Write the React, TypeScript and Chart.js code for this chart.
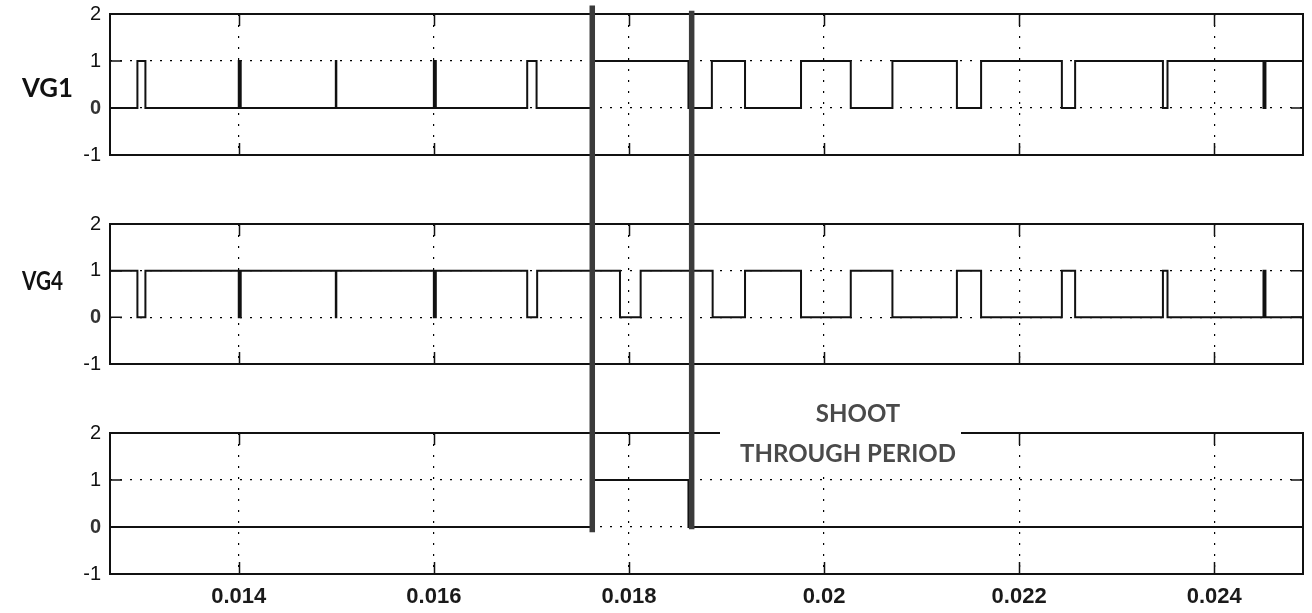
import React, { useEffect, useRef } from 'react';
import { Chart, registerables } from 'chart.js';

Chart.register(...registerables);

// Time axis (seconds)
const T_MIN = 0.01268;
const T_MAX = 0.02491;
const TIME_TICKS = [0.014, 0.016, 0.018, 0.02, 0.022, 0.024];
const TIME_TICK_LABELS = ['0.014', '0.016', '0.018', '0.02', '0.022', '0.024'];
const LEVEL_TICKS = [-1, 0, 1, 2];

// Gate signal VG1: switching instants and the level held from each instant on
const VG1_TIMES = [
  T_MIN, 0.012961, 0.013043, 0.014, 0.01402, 0.014995, 0.015, 0.016, 0.01602,
  0.016957, 0.017053, 0.01762, 0.01861, 0.01885, 0.01919, 0.019764, 0.020274,
  0.020701, 0.021362, 0.02161, 0.022438, 0.022574, 0.023474, 0.023521, 0.024505,
  0.024525, T_MAX,
];
const VG1_LEVELS = [
  0, 1, 0, 1, 0, 1, 0, 1, 0,
  1, 0, 1, 0, 1, 0, 1, 0,
  1, 0, 1, 0, 1, 0, 1, 0,
  1, 1,
];

// Gate signal VG4
const VG4_TIMES = [
  T_MIN, 0.012961, 0.013043, 0.014, 0.01402, 0.014995, 0.015, 0.016, 0.01602,
  0.016957, 0.017059, 0.017908, 0.01812, 0.018858, 0.01919, 0.019764, 0.020274,
  0.020701, 0.021362, 0.02161, 0.022438, 0.022574, 0.023474, 0.023521, 0.024505,
  0.024525, T_MAX,
];
const VG4_LEVELS = [
  1, 0, 1, 0, 1, 0, 1, 0, 1,
  0, 1, 0, 1, 0, 1, 0, 1,
  0, 1, 0, 1, 0, 1, 0, 1,
  0, 0,
];

// Shoot-through state
const ST_TIMES = [T_MIN, 0.01762, 0.01861, T_MAX];
const ST_LEVELS = [0, 1, 0, 0];

// Boundaries of the shoot-through interval
const SHOOT_THROUGH_MARKERS = [0.017624, 0.018643];

const CAPTION_LINES = ['SHOOT', 'THROUGH PERIOD'];

type PanelSpec = {
  id: string;
  label: string | null;
  labelSize: number;
  labelLeft: number;
  labelBaseline: number;
  labelWidth: number;
  times: number[];
  levels: number[];
  top: number;
  height: number;
  padTop: number;
  axisHeight: number;
  showTimeLabels: boolean;
  markerTop: number[] | null;
  markerBottom: number[] | null;
  caption: boolean;
};

const PANELS: PanelSpec[] = [
  {
    id: 'vg1', label: 'VG1', labelSize: 27, labelLeft: 22, labelBaseline: 97, labelWidth: 51,
    times: VG1_TIMES, levels: VG1_LEVELS, top: 0, height: 190, padTop: 14, axisHeight: 35,
    showTimeLabels: false, markerTop: [2.18, 2.07], markerBottom: null, caption: false,
  },
  {
    id: 'vg4', label: 'VG4', labelSize: 26, labelLeft: 22, labelBaseline: 100, labelWidth: 41,
    times: VG4_TIMES, levels: VG4_LEVELS, top: 190, height: 210, padTop: 34, axisHeight: 36,
    showTimeLabels: false, markerTop: null, markerBottom: null, caption: false,
  },
  {
    id: 'st', label: null, labelSize: 0, labelLeft: 0, labelBaseline: 0, labelWidth: 0,
    times: ST_TIMES, levels: ST_LEVELS, top: 400, height: 213, padTop: 33, axisHeight: 39,
    showTimeLabels: true, markerTop: null, markerBottom: [-0.11, -0.05], caption: true,
  },
];

function scopePlugin(spec: PanelSpec) {
  return {
    id: 'scopeFrame_' + spec.id,
    afterDatasetsDraw(chart: any) {
      const { ctx, chartArea: a, scales } = chart;
      const xs = scales.x;
      const ys = scales.y;
      ctx.save();

      // inward tick marks on all four sides
      ctx.strokeStyle = '#111';
      ctx.lineWidth = 1.5;
      ctx.beginPath();
      for (const v of TIME_TICKS) {
        const px = Math.round(xs.getPixelForValue(v)) + 0.5;
        ctx.moveTo(px, a.top);
        ctx.lineTo(px, a.top + 12);
        ctx.moveTo(px, a.bottom);
        ctx.lineTo(px, a.bottom - 12);
      }
      for (const v of LEVEL_TICKS) {
        const py = ys.getPixelForValue(v);
        ctx.moveTo(a.left, py);
        ctx.lineTo(a.left + 12, py);
        ctx.moveTo(a.right, py);
        ctx.lineTo(a.right - 12, py);
      }
      ctx.stroke();

      // axes box
      ctx.lineWidth = 2;
      ctx.strokeRect(a.left, a.top, a.right - a.left, a.bottom - a.top);

      // shoot-through boundary markers
      ctx.strokeStyle = '#3b3b3b';
      ctx.lineWidth = 5.5;
      ctx.lineCap = 'butt';
      SHOOT_THROUGH_MARKERS.forEach((t, i) => {
        const px = xs.getPixelForValue(t);
        const y0 = spec.markerTop ? ys.getPixelForValue(spec.markerTop[i]) : 0;
        const y1 = spec.markerBottom ? ys.getPixelForValue(spec.markerBottom[i]) : chart.height;
        ctx.beginPath();
        ctx.moveTo(px, y0);
        ctx.lineTo(px, y1);
        ctx.stroke();
      });

      // signal name
      if (spec.label) {
        ctx.fillStyle = '#111';
        ctx.font = `bold ${spec.labelSize}px Lato, "Open Sans", sans-serif`;
        ctx.textAlign = 'left';
        ctx.textBaseline = 'alphabetic';
        ctx.fillText(spec.label, spec.labelLeft, spec.labelBaseline, spec.labelWidth);
      }

      // caption breaking the top edge of the last axes
      if (spec.caption) {
        ctx.fillStyle = '#ffffff';
        ctx.fillRect(720, 0, 241, 70);
        ctx.fillStyle = '#4a4a4a';
        ctx.font = 'bold 24px Lato, "Open Sans", sans-serif';
        ctx.textAlign = 'center';
        ctx.textBaseline = 'alphabetic';
        ctx.fillText(CAPTION_LINES[0], 858, 22);
        ctx.fillText(CAPTION_LINES[1], 848, 62);
      }
      ctx.restore();
    },
  };
}

function Panel({ spec }: { spec: PanelSpec }) {
  const ref = useRef<HTMLCanvasElement>(null);

  useEffect(() => {
    const canvas = ref.current;
    if (!canvas) return;
    const points = spec.times.map((t, i) => ({ x: t, y: spec.levels[i] }));
    const chart = new Chart(canvas, {
      type: 'line',
      data: {
        datasets: [
          {
            data: points,
            stepped: true,
            borderColor: '#111',
            borderWidth: 2,
            pointRadius: 0,
            fill: false,
          },
        ],
      },
      options: {
        responsive: false,
        maintainAspectRatio: false,
        animation: false,
        events: [],
        layout: { padding: { top: spec.padTop, right: 9, left: 0, bottom: 0 } },
        plugins: { legend: { display: false }, tooltip: { enabled: false } },
        scales: {
          x: {
            type: 'linear',
            min: T_MIN,
            max: T_MAX,
            afterBuildTicks: (scale: any) => {
              scale.ticks = TIME_TICKS.map((value) => ({ value }));
            },
            afterFit: (scale: any) => {
              scale.height = spec.axisHeight;
              scale.paddingLeft = 0;
              scale.paddingRight = 0;
            },
            grid: { color: '#000', lineWidth: 1.2, drawTicks: false },
            border: { display: false, dash: [2, 9] },
            ticks: {
              display: spec.showTimeLabels,
              autoSkip: false,
              maxRotation: 0,
              padding: 10,
              color: '#1a1a1a',
              font: { family: '"Liberation Sans", Arial, sans-serif', size: 22, weight: 'bold' },
              callback: (_v: any, index: number) => TIME_TICK_LABELS[index],
            },
          },
          y: {
            type: 'linear',
            min: -1,
            max: 2,
            afterBuildTicks: (scale: any) => {
              scale.ticks = LEVEL_TICKS.map((value) => ({ value }));
            },
            afterFit: (scale: any) => {
              scale.width = 110;
              scale.paddingTop = 0;
              scale.paddingBottom = 0;
            },
            grid: { color: '#000', lineWidth: 1.2, drawTicks: false },
            border: { display: false, dash: [2, 8] },
            ticks: {
              padding: 9,
              color: (c: any) => (c.tick && c.tick.value === 0 ? '#333' : '#111'),
              font: (c: any) => ({
                family: '"Liberation Sans", Arial, sans-serif',
                size: 20,
                weight: c.tick && c.tick.value === 0 ? 'bold' : 'normal',
              }),
              callback: (v: any) => String(v),
            },
          },
        },
      },
      plugins: [scopePlugin(spec)],
    } as any);
    return () => chart.destroy();
  }, [spec]);

  return (
    <canvas
      ref={ref}
      width={1312}
      height={spec.height}
      style={{ position: 'absolute', left: 0, top: spec.top, width: 1312, height: spec.height }}
    />
  );
}

export default function App() {
  return (
    <div
      style={{
        position: 'fixed',
        left: 0,
        top: 0,
        width: 1312,
        height: 613,
        background: '#ffffff',
        overflow: 'hidden',
      }}
    >
      {PANELS.map((p) => (
        <Panel key={p.id} spec={p} />
      ))}
    </div>
  );
}
